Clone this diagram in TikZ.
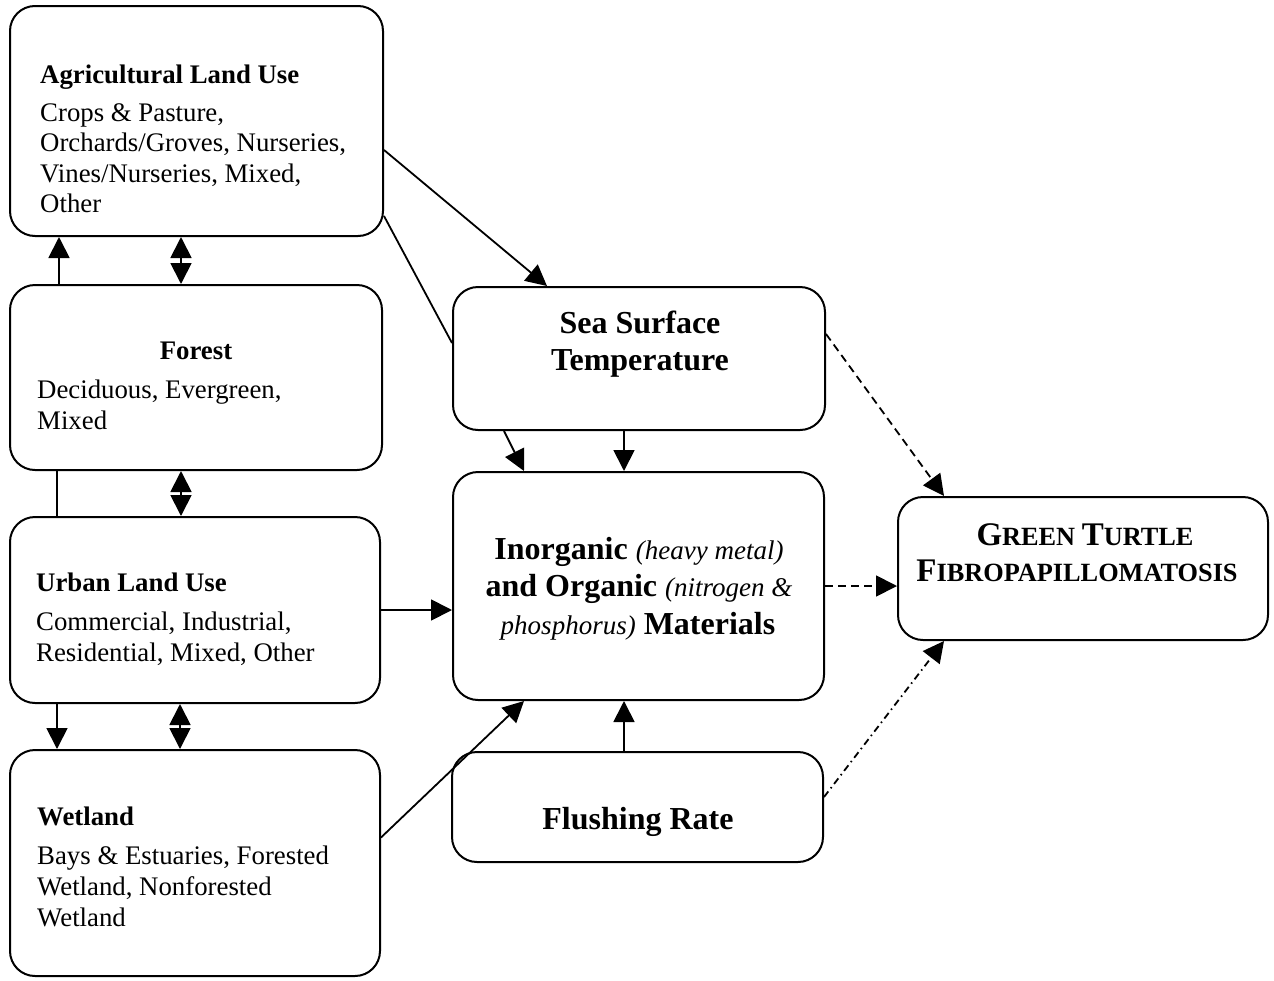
\documentclass[tikz,border=0pt]{standalone}
\usepackage{fontspec}
\setmainfont{Liberation Serif}
\usetikzlibrary{arrows.meta}
\newcommand{\bodyfs}{\fontsize{26.8pt}{30pt}\selectfont}
\newcommand{\bigfs}{\fontsize{32pt}{36pt}\selectfont}
\newcommand{\itfs}{\fontsize{27pt}{36pt}\selectfont\itshape\mdseries}
\newcommand{\gtA}{\fontsize{33pt}{36pt}\selectfont}
\newcommand{\gtB}{\fontsize{26.3pt}{36pt}\selectfont}
\tikzset{
  box/.style={draw, line width=2pt, rounded corners=25pt, inner sep=0pt},
  txt/.style={inner sep=0pt, anchor=base west, font=\bodyfs},
  ttl/.style={txt, font=\bodyfs\bfseries},
  ctr/.style={inner sep=0pt, anchor=base, font=\bigfs\bfseries},
  arr/.style={line width=1.8pt, -{Triangle[length=21pt,width=21pt]}},
  darr/.style={line width=1.8pt, {Triangle[length=21pt,width=21pt]}-{Triangle[length=21pt,width=21pt]}},
  plain/.style={line width=1.8pt},
  dsh/.style={line width=1.8pt, dash pattern=on 8pt off 5pt, -{Triangle[length=21pt,width=21pt]}},
  ddot/.style={line width=1.8pt, dash pattern=on 7pt off 4pt on 1.5pt off 4pt, -{Triangle[length=21pt,width=21pt]}}
}
\begin{document}
\begin{tikzpicture}[x=1pt,y=-1pt]
\useasboundingbox (0,0) rectangle (1274,980);
% boxes
\node[box, minimum width=373pt, minimum height=230pt] (agri) at (196.5,121) {};
\node[box, minimum width=372pt, minimum height=185pt] (forest) at (196,377.5) {};
\node[box, minimum width=370pt, minimum height=186pt] (urban) at (195,610) {};
\node[box, minimum width=370pt, minimum height=226pt] (wet) at (195,863) {};
\node[box, minimum width=372pt, minimum height=143pt] (sst) at (639,358.5) {};
\node[box, minimum width=371pt, minimum height=228pt] (inorg) at (638.5,586) {};
\node[box, minimum width=371pt, minimum height=110pt] (flush) at (637.5,807) {};
\node[box, minimum width=370pt, minimum height=143pt] (gt) at (1083,568.5) {};
% agri text
\node[ttl] (agriT) at (40,83) {Agricultural Land Use};
\node[txt] (agri1) at (40,121) {Crops \& Pasture,};
\node[txt] (agri2) at (40,151.5) {Orchards/Groves, Nurseries,};
\node[txt] (agri3) at (40,182) {Vines/Nurseries, Mixed,};
\node[txt] (agri4) at (40,212.5) {Other};
% forest text
\node[ttl, anchor=base] (forT) at (196,359) {Forest};
\node[txt] (for1) at (37,398) {Deciduous, Evergreen,};
\node[txt] (for2) at (37,429) {Mixed};
% urban text
\node[ttl] (urbT) at (36,591) {Urban Land Use};
\node[txt] (urb1) at (36,630) {Commercial, Industrial,};
\node[txt] (urb2) at (36,661) {Residential, Mixed, Other};
% wetland text
\node[ttl] (wetT) at (37,825) {Wetland};
\node[txt] (wet1) at (37,864) {Bays \& Estuaries, Forested};
\node[txt] (wet2) at (37,895) {Wetland, Nonforested};
\node[txt] (wet3) at (37,926) {Wetland};
% sst
\node[ctr] (sstA) at (640,333) {Sea Surface};
\node[ctr] (sstB) at (640,370) {Temperature};
% inorganic
\node[ctr] (inA) at (639,559) {Inorganic {\itfs(heavy metal)}};
\node[ctr] (inB) at (639,596) {and Organic {\itfs(nitrogen \&}};
\node[ctr] (inC) at (638,634) {{\itfs phosphorus)} Materials};
% flushing
\node[ctr] (flA) at (638,829) {Flushing Rate};
% green turtle
\node[ctr] (gtA) at (1085,545) {\gtA G\gtB REEN \gtA T\gtB URTLE};
\node[ctr] (gtB) at (1077,581) {\gtA F\gtB IBROPAPILLOMATOSIS};
% left column connectors
\draw[arr] ([xshift=50pt]forest.north west) -- ([xshift=50pt]agri.south west);
\draw[darr] ([xshift=172pt]forest.north west) -- ([xshift=172pt]agri.south west);
\draw[plain] ([xshift=48pt]forest.south west) -- ([xshift=48pt]urban.north west);
\draw[darr] ([xshift=172pt]urban.north west) -- ([xshift=172pt]forest.south west);
\draw[arr] ([xshift=48pt]urban.south west) -- ([xshift=48pt]wet.north west);
\draw[darr] ([xshift=171pt]wet.north west) -- ([xshift=171pt]urban.south west);
% to sst
\draw[arr] ([yshift=-29pt]agri.east) -- ([xshift=95pt]sst.north west);
\draw[plain] ([yshift=21pt]agri.south east) -- ([yshift=15.5pt]sst.west);
% sst to inorganic
\draw[arr] ([xshift=52pt]sst.south west) -- ([xshift=72pt]inorg.north west);
\draw[arr] ([xshift=172pt]sst.south west) -- ([xshift=172pt]inorg.north west);
% urban, wetland, flushing to inorganic
\draw[arr] (urban.east) -- (urban.east -| inorg.west);
\draw[arr] ([yshift=25.5pt]wet.east) -- ([xshift=72pt]inorg.south west);
\draw[arr] ([xshift=173pt]flush.north west) -- ([xshift=172pt]inorg.south west);
% to green turtle
\draw[dsh] ([yshift=-48pt]sst.north east) -- ([xshift=47pt]gt.north west);
\draw[dsh] (inorg.east) -- (inorg.east -| gt.west);
\draw[ddot] ([yshift=10pt]flush.east) -- ([xshift=47pt]gt.south west);
\end{tikzpicture}
\end{document}
